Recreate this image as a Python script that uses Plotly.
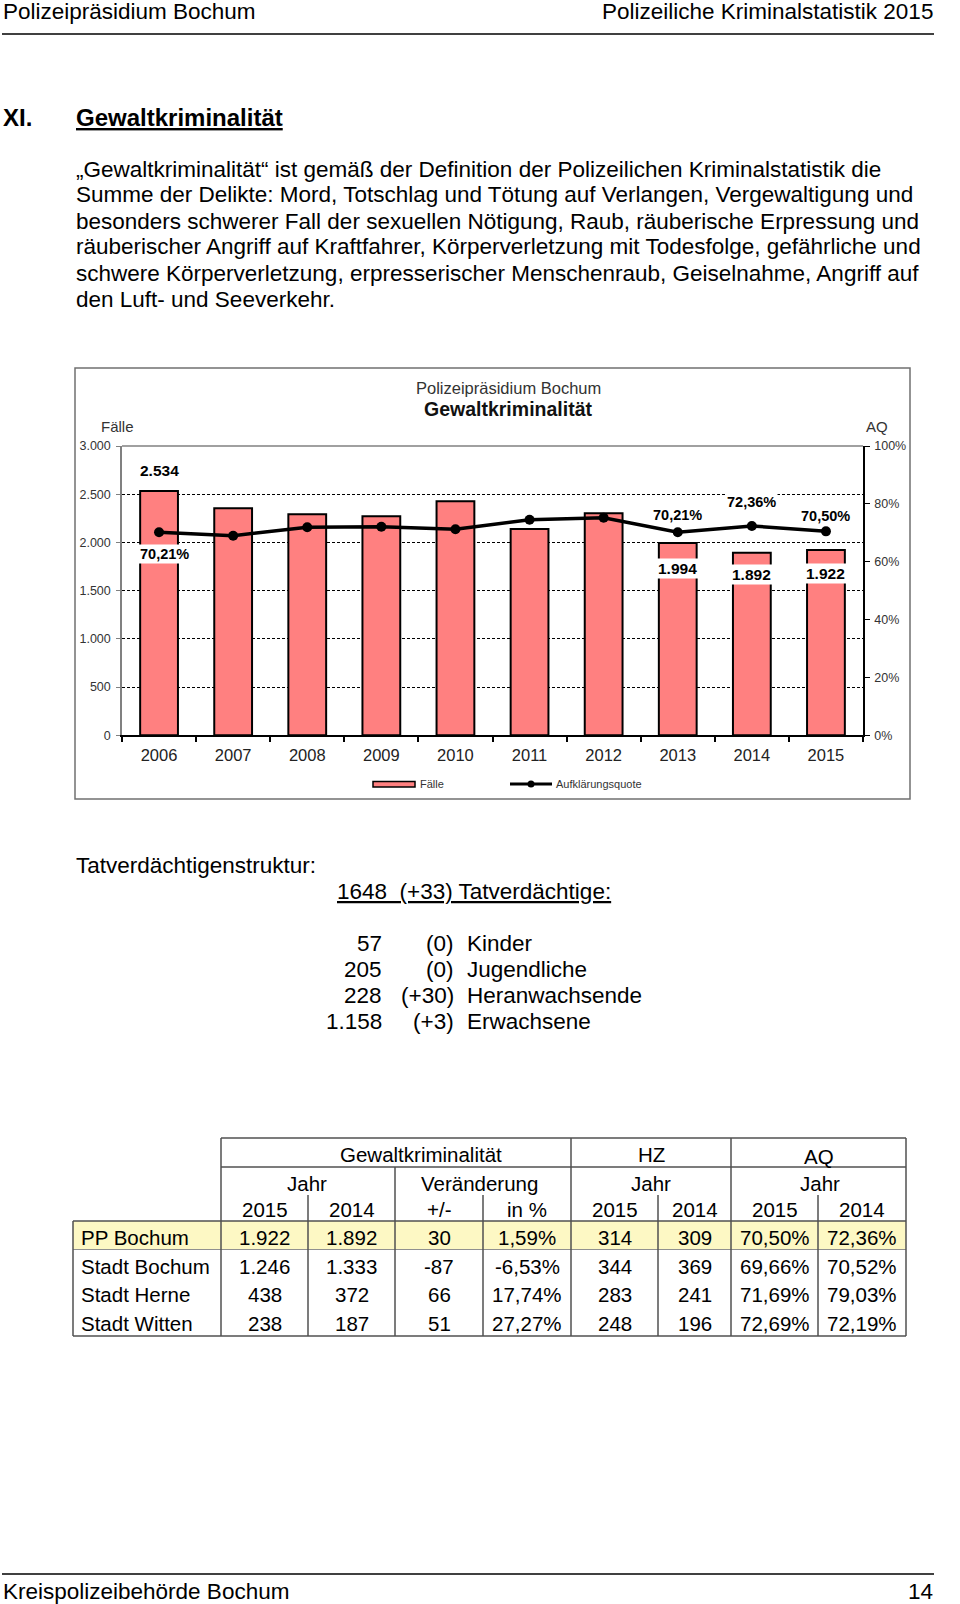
import plotly.graph_objects as go

# ---------------- data ----------------
years = ["2006", "2007", "2008", "2009", "2010", "2011", "2012", "2013", "2014", "2015"]
cases = [2534, 2354, 2292, 2271, 2427, 2140, 2302, 1994, 1892, 1922]
clearance_rate = [0.7021, 0.690, 0.719, 0.721, 0.712, 0.745, 0.752, 0.7021, 0.7236, 0.7050]
labelled_years = ["2006", "2013", "2014", "2015"]

left_tickvals = [0, 500, 1000, 1500, 2000, 2500, 3000]
left_ticktext = ["0", "500", "1.000", "1.500", "2.000", "2.500", "3.000"]
right_tickvals = [0, 0.2, 0.4, 0.6, 0.8, 1.0]
right_ticktext = ["0%", "20%", "40%", "60%", "80%", "100%"]

suspects_total = 1648
suspects_change = 33
suspect_groups = ["Kinder", "Jugendliche", "Heranwachsende", "Erwachsene"]
suspect_counts = [57, 205, 228, 1158]
suspect_changes = [0, 0, 30, 3]

regions = ["PP Bochum", "Stadt Bochum", "Stadt Herne", "Stadt Witten"]
cases_2015 = [1922, 1246, 438, 238]
cases_2014 = [1892, 1333, 372, 187]
change_abs = [30, -87, 66, 51]
change_pct = [1.59, -6.53, 17.74, 27.27]
hz_2015 = [314, 344, 283, 248]
hz_2014 = [309, 369, 241, 196]
aq_2015 = [70.50, 69.66, 71.69, 72.69]
aq_2014 = [72.36, 70.52, 79.03, 72.19]

paragraph = [
    "„Gewaltkriminalität“ ist gemäß der Definition der Polizeilichen Kriminalstatistik die",
    "Summe der Delikte: Mord, Totschlag und Tötung auf Verlangen, Vergewaltigung und",
    "besonders schwerer Fall der sexuellen Nötigung, Raub, räuberische Erpressung und",
    "räuberischer Angriff auf Kraftfahrer, Körperverletzung mit Todesfolge, gefährliche und",
    "schwere Körperverletzung, erpresserischer Menschenraub, Geiselnahme, Angriff auf",
    "den Luft- und Seeverkehr.",
]

# ---------------- helpers ----------------
W, H = 960, 1604
FONT = "Liberation Sans, Arial, sans-serif"


def px(x):
    return x / W


def py(y):
    return 1 - y / H


def de_int(n):
    return f"{n:,}".replace(",", ".")


def de_pct(v):
    return f"{v:.2f}".replace(".", ",") + "%"


annotations = []
shapes = []


def text(x, y, s, size=22.5, anchor="left", color="black", family=FONT, bg=None):
    a = dict(x=px(x), y=py(y), xref="paper", yref="paper", text=s, showarrow=False,
             xanchor=anchor, yanchor="middle", borderpad=0,
             font=dict(size=size, color=color, family=family))
    if bg:
        a["bgcolor"] = bg
    annotations.append(a)


def line(x0, y0, x1, y1, color="black", width=1.5, dash=None):
    d = dict(type="line", xref="paper", yref="paper", x0=px(x0), y0=py(y0), x1=px(x1), y1=py(y1),
             line=dict(color=color, width=width))
    if dash:
        d["line"]["dash"] = dash
    shapes.append(d)


def rect(x0, y0, x1, y1, fill=None, color="black", width=1.5, layer="above"):
    d = dict(type="rect", xref="paper", yref="paper", x0=px(x0), y0=py(y0), x1=px(x1), y1=py(y1),
             line=dict(color=color, width=width), layer=layer)
    if fill:
        d["fillcolor"] = fill
    shapes.append(d)


# ---------------- page header / footer ----------------
text(2, 12, "Polizeipräsidium Bochum")
text(934, 12, "Polizeiliche Kriminalstatistik 2015", anchor="right")
line(2, 34, 934, 34, width=1.5)

text(2, 117, "<b>XI.</b>", size=24)
text(75, 117, "<b><u>Gewaltkriminalität</u></b>", size=24)

para_y = [169, 194.5, 221, 246.7, 273.3, 299]
for yy, s in zip(para_y, paragraph):
    text(75, yy, s)

line(2, 1574, 934, 1574, width=1.5)
text(2, 1591, "Kreispolizeibehörde Bochum")
text(934, 1591, "14", anchor="right")

# ---------------- chart frame & titles ----------------
rect(75, 368, 910, 799, color="#707070", width=1.5, layer="below")
text(508, 388, "Polizeipräsidium Bochum", size=16.5, anchor="center", color="#333333")
text(508, 409, "<b>Gewaltkriminalität</b>", size=19.5, anchor="center", color="#111111")
text(117, 427, "Fälle", size=15, anchor="center", color="#333333")
text(877, 427, "AQ", size=15, anchor="center", color="#333333")

# top border of plot area
line(122, 446, 863, 446, color="#808080", width=1.5)

# legend
rect(373, 781.5, 415, 787, fill="#FF8080", color="black", width=1.5)
text(419, 784, "Fälle", size=11, color="#333333")
line(510, 784, 552, 784, color="black", width=3)
shapes.append(dict(type="circle", xref="paper", yref="paper",
                   x0=px(527.5), x1=px(534.5), y0=py(787.5), y1=py(780.5),
                   fillcolor="black", line=dict(color="black", width=0)))
text(555, 784, "Aufklärungsquote", size=11, color="#333333")

# ---------------- traces ----------------
fig = go.Figure()
fig.add_trace(go.Bar(
    x=years, y=cases, name="Fälle",
    marker=dict(color="#FF8080", line=dict(color="black", width=2)),
    hoverinfo="skip",
))
fig.add_trace(go.Scatter(
    x=years, y=clearance_rate, name="Aufklärungsquote", yaxis="y2",
    mode="lines+markers",
    line=dict(color="black", width=3.5),
    marker=dict(color="black", size=10),
    hoverinfo="skip",
))

# data labels (positioned through the axes)
case_shift = {"2006": 20, "2013": -25, "2014": -22, "2015": -24}
aq_shift = {"2006": -22, "2013": 17, "2014": 24, "2015": 15}
for yr in labelled_years:
    i = years.index(yr)
    ca = dict(
        x=i, y=cases[i], xref="x", yref="y", text="<b>" + de_int(cases[i]) + "</b>",
        showarrow=False, yshift=case_shift[yr], xanchor="center", yanchor="middle",
        font=dict(size=15.5, color="black", family=FONT), borderpad=1,
    )
    if yr != "2006":
        ca["bgcolor"] = "white"
    annotations.append(ca)
    annotations.append(dict(
        x=i, y=clearance_rate[i], xref="x", yref="y2",
        text="<b>" + de_pct(clearance_rate[i] * 100) + "</b>",
        showarrow=False, yshift=aq_shift[yr], xshift=5 if yr == "2006" else 0,
        xanchor="center", yanchor="middle",
        font=dict(size=14.5, color="black", family=FONT),
        bgcolor="white", borderpad=1,
    ))

# ---------------- Tatverdächtige ----------------
text(75, 866, "Tatverdächtigenstruktur:")
text(336, 891.5, f"<u>{suspects_total}\u00a0\u00a0(+{suspects_change}) Tatverdächtige:</u>")
sus_y = [943.7, 969.3, 995, 1021.4]
for yy, cnt, chg, grp in zip(sus_y, suspect_counts, suspect_changes, suspect_groups):
    text(383, yy, de_int(cnt), anchor="right")
    text(454.5, yy, f"(+{chg})" if chg else "(0)", anchor="right")
    text(466, yy, grp)

# ---------------- table ----------------
TS = 20.5
L, R = 73, 906
c_lab = 221
col_edges = [221, 308, 395, 483, 571, 658, 731, 818, 906]
col_centers = [(a + b) / 2 for a, b in zip(col_edges[:-1], col_edges[1:])]
row_centers = [1237.4, 1266, 1294.7, 1323.4]

rect(L, 1221, R, 1249.5, fill="#FDF8C4", color="rgba(0,0,0,0)", width=0, layer="below")

LC = "#505050"
line(c_lab, 1138, R, 1138, LC)
line(c_lab, 1167, R, 1167, LC)
line(L, 1221, R, 1221, LC)
line(L, 1249.5, R, 1249.5, "#909090", width=1)
line(L, 1336, R, 1336, LC)
line(L, 1221, L, 1336, LC)
line(c_lab, 1138, c_lab, 1336, LC)
line(R, 1138, R, 1336, LC)
line(571, 1138, 571, 1336, LC)
line(731, 1138, 731, 1336, LC)
line(395, 1167, 395, 1336, LC)
for xx in (308, 483, 658, 818):
    line(xx, 1195, xx, 1336, LC)

text(421, 1154.5, "Gewaltkriminalität", size=TS, anchor="center")
text(651, 1154.5, "HZ", size=TS, anchor="center")
text(818.5, 1156.5, "AQ", size=TS, anchor="center")
text(307, 1183, "Jahr", size=TS, anchor="center")
text(479, 1183, "Veränderung", size=TS, anchor="center")
text(651, 1183, "Jahr", size=TS, anchor="center")
text(820, 1183, "Jahr", size=TS, anchor="center")
sub_heads = ["2015", "2014", "+/-", "in %", "2015", "2014", "2015", "2014"]
for cx, s in zip(col_centers, sub_heads):
    text(cx, 1209, s, size=TS, anchor="center")

for r, yy in enumerate(row_centers):
    text(80, yy, regions[r], size=TS)
    cells = [de_int(cases_2015[r]), de_int(cases_2014[r]), str(change_abs[r]), de_pct(change_pct[r]),
             str(hz_2015[r]), str(hz_2014[r]), de_pct(aq_2015[r]), de_pct(aq_2014[r])]
    for cx, s in zip(col_centers, cells):
        text(cx, yy, s, size=TS, anchor="center")

# ---------------- layout ----------------
fig.update_layout(
    width=W, height=H, autosize=False,
    margin=dict(l=0, r=0, t=0, b=0, pad=0, autoexpand=False),
    paper_bgcolor="white", plot_bgcolor="rgba(0,0,0,0)",
    showlegend=False,
    bargap=0.49,
    font=dict(family=FONT, color="black"),
    xaxis=dict(
        domain=[px(122), px(863)], anchor="y", type="category", range=[-0.5, 9.5],
        showline=True, linecolor="black", linewidth=1.5,
        ticks="outside", tickson="boundaries", ticklen=5, tickcolor="black", tickwidth=1.5,
        tickfont=dict(size=16.5, color="#222222"), showgrid=False, fixedrange=True,
        automargin=False, ticklabelstandoff=4,
    ),
    yaxis=dict(
        domain=[py(735.3), py(446)], anchor="x", range=[0, 3000],
        tickvals=left_tickvals, ticktext=left_ticktext,
        showgrid=True, gridcolor="black", gridwidth=1, griddash="3px,2px",
        showline=True, linecolor="#808080", linewidth=1.5,
        ticks="outside", ticklen=4, tickcolor="#808080",
        tickfont=dict(size=12.5, color="#333333"), zeroline=False, fixedrange=True,
        automargin=False, ticklabelstandoff=3,
    ),
    yaxis2=dict(
        overlaying="y", side="right", anchor="x", range=[0, 1],
        tickvals=right_tickvals, ticktext=right_ticktext,
        showgrid=False, showline=True, linecolor="black", linewidth=1.5,
        ticks="outside", ticklen=5, tickcolor="black",
        tickfont=dict(size=12.5, color="#333333"), zeroline=False, fixedrange=True,
        automargin=False, ticklabelstandoff=2,
    ),
    yaxis3=dict(
        overlaying="y", side="right", anchor="x", range=[0, 1],
        tickvals=right_tickvals, showticklabels=False,
        showgrid=False, showline=False, ticks="inside", ticklen=5, tickcolor="black",
        zeroline=False, fixedrange=True, automargin=False,
    ),
    annotations=annotations,
    shapes=shapes,
)

fig.write_html(
    "out.html",
    config={"displayModeBar": False},
    post_script=(
        "document.documentElement.style.margin='0';"
        "document.documentElement.style.padding='0';"
        "document.body.style.margin='0';document.body.style.padding='0';"
        "document.documentElement.style.overflow='hidden';"
        "document.body.style.overflow='hidden';"
    ),
)
